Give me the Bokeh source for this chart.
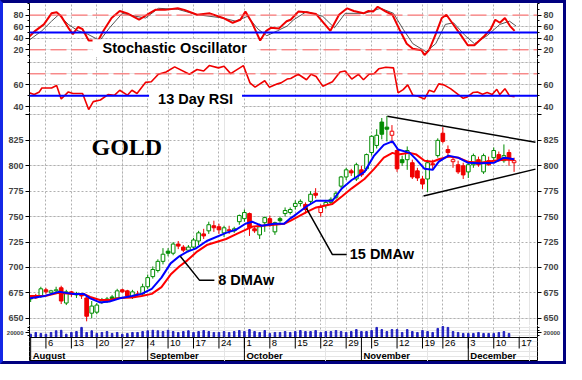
import numpy as np
from bokeh.plotting import figure
from bokeh.layouts import column
from bokeh.models import Range1d, FixedTicker, LinearAxis, Label, Span, Grid
from bokeh.core.properties import value
from bokeh.embed import file_html
from bokeh.resources import INLINE

# ---------------- data (x = trading-day index, Jul 30 2007 = 0) ----------------
week_idx = [5, 10, 15, 20, 25, 29, 34, 39, 44, 49, 54, 59, 64, 69, 74, 79, 83, 88, 93, 98]
week_labels = ["6", "13", "20", "27", "4", "10", "17", "24", "1", "8", "15", "22", "29",
               "5", "12", "19", "26", "3", "10", "17"]
month_idx = [2, 25, 44, 67, 88]
month_labels = ["August", "September", "October", "November", "December"]

day_idx = list(range(2, 98))
prior_close = 668
opens = [669, 672, 672, 678, 675, 677, 680, 665, 676, 673, 674, 670, 655, 656, 666, 667, 671, 670, 678, 677,
         671, 674, 674, 681, 691, 697, 706, 716, 714, 723, 720, 717, 720, 726, 733, 736, 741, 740, 734, 737,
         736, 745, 748, 753, 738, 732, 744, 748, 735, 748, 753, 754, 760, 763, 762, 765, 773, 754, 761, 764,
         769, 780, 789, 795, 787, 796, 797, 813, 820, 843, 838, 830, 815, 806, 806, 803, 795, 787, 787, 802,
         810, 832, 816, 804, 801, 800, 794, 801, 806, 794, 805, 808, 811, 805, 813, 803]
highs = [672, 674, 681, 680, 678, 681, 682, 678, 677, 676, 675, 671, 667, 665, 670, 671, 673, 679, 679, 678,
         678, 677, 684, 693, 701, 708, 719, 719, 725, 726, 722, 722, 729, 736, 738, 745, 746, 743, 741, 741,
         740, 752, 757, 754, 740, 743, 750, 751, 745, 750, 759, 759, 766, 767, 764, 775, 778, 762, 766, 769,
         775, 790, 798, 797, 803, 800, 812, 830, 836, 847, 849, 840, 818, 810, 819, 806, 798, 790, 806, 806,
         827, 838, 820, 808, 805, 803, 803, 812, 809, 812, 809, 818, 814, 821, 816, 808]
lows = [666, 669, 670, 674, 673, 675, 664, 663, 671, 670, 669, 647, 650, 654, 664, 665, 667, 668, 675, 671,
        669, 672, 673, 679, 689, 695, 703, 711, 712, 718, 715, 715, 718, 722, 728, 733, 735, 733, 730, 733,
        734, 742, 745, 731, 734, 728, 735, 740, 732, 744, 750, 752, 757, 760, 753, 762, 768, 750, 758, 762,
        767, 778, 786, 790, 785, 789, 795, 810, 817, 826, 824, 822, 794, 800, 796, 787, 785, 777, 774, 796,
        808, 822, 808, 798, 792, 787, 788, 798, 799, 792, 800, 805, 804, 803, 800, 794]
closes = [671, 670, 679, 676, 677, 678, 667, 676, 674, 674, 672, 652, 662, 663, 668, 669, 669, 677, 676, 672,
          676, 673, 681, 690, 698, 706, 713, 714, 723, 721, 717, 720, 727, 734, 731, 742, 739, 737, 739, 736,
          738, 751, 754, 739, 736, 740, 749, 742, 744, 746, 756, 757, 763, 765, 757, 772, 771, 759, 764, 767,
          773, 789, 796, 793, 801, 791, 811, 829, 830, 831, 836, 834, 797, 803, 815, 789, 788, 782, 803, 801,
          825, 824, 813, 806, 794, 791, 801, 810, 801, 810, 801, 815, 806, 810, 806, 805]

vol_idx = list(range(2, 97))
volumes = [14000, 21000, 17000, 14000, 21000, 28000, 30000, 14000, 21000, 25000, 42000, 21000, 28000, 17000,
           21000, 25000, 17000, 21000, 14000, 17000, 21000, 21000, 25000, 28000, 30000, 28000, 25000, 30000,
           25000, 21000, 25000, 28000, 21000, 25000, 29000, 25000, 21000, 21000, 25000, 21000, 25000, 29000,
           25000, 33000, 25000, 21000, 29000, 17000, 21000, 21000, 25000, 21000, 25000, 29000, 25000, 25000,
           29000, 21000, 25000, 25000, 29000, 25000, 21000, 25000, 33000, 25000, 25000, 29000, 42000, 33000,
           25000, 33000, 33000, 21000, 33000, 25000, 21000, 29000, 25000, 21000, 38000, 46000, 42000, 25000,
           21000, 17000, 17000, 17000, 21000, 17000, 17000, 17000, 21000, 25000, 17000]

ma8_x = [1.8, 4.8, 7.5, 10.3, 12.4, 13.7, 15.6, 17.5, 19.5, 21.9, 23.8, 25.8, 27.7, 29.5, 31.2, 32.8, 34.4,
         36.6, 40.4, 42.3, 44.2, 45.5, 47.4, 49.9, 51.8, 53.1, 53.7, 56.2, 58.1, 61.3, 63.2, 65.1, 67.6, 69.5,
         71.4, 73.1, 74.2, 76.5, 77.8, 79.4, 81.0, 82.2, 84.1, 86.0, 87.9, 90.4, 93.1, 95.0, 97.0]
ma8_y = [669.6, 672, 676, 674, 674, 669.6, 665.6, 666.5, 669.6, 672, 674, 679, 690, 704, 711, 715.6, 718.5,
         726, 734, 737, 743, 745, 741, 743, 743, 748.6, 750.5, 760, 765.6, 765.6, 778, 786, 794, 810,
         820.6, 824, 816, 812.7, 806, 797, 796, 804, 810, 808, 803, 802.6, 803, 808, 806.5]
ma15_x = [1.8, 4.8, 7.5, 10.3, 12.4, 13.7, 15.6, 17.5, 19.5, 21.9, 23.8, 25.8, 27.7, 29.5, 31.2, 32.8, 34.7,
          36.6, 40.4, 42.3, 44.2, 45.5, 47.4, 49.9, 51.8, 53.1, 56.2, 58.1, 61.3, 63.2, 65.1, 67.6, 69.5,
          71.4, 73.1, 74.2, 76.5, 77.8, 79.4, 81.0, 82.2, 84.1, 86.0, 87.9, 90.4, 93.1, 95.0, 97.0]
ma15_y = [672, 672, 675, 674, 674, 671, 668, 668, 670, 670.5, 672, 674, 680.7, 693, 701, 707, 715.6,
          722, 728, 732.5, 737, 740, 741, 742, 743, 746, 754.5, 759, 762.5, 770, 777.8, 787, 797,
          808, 812.7, 811, 812.7, 811, 805, 804, 806.4, 809, 808, 804, 803, 805, 806, 805.8]

stk_x = [1.6, 2.9, 4.6, 6.1, 7.1, 8.0, 9.4, 10.3, 11.3, 12.2, 13.4, 14.7, 15.3, 16.3, 17.9, 19.5, 21.0,
         23.3, 24.9, 26.5, 28.4, 30.9, 32.2, 34.7, 37.2, 39.8, 41.7, 43.2, 44.2, 45.5, 47.1, 48.3, 49.2,
         50.8, 52.3, 53.1, 54.6, 56.2, 58.1, 60.9, 62.6, 64.2, 65.5, 67.4, 68.3, 69.3, 70.2, 71.8, 73.1,
         74.6, 75.9, 77.1, 78.8, 79.4, 80.3, 81.6, 82.8, 83.7, 84.6, 86.4, 87.9, 89.2, 91.2, 92.4, 93.3,
         94.2, 95.2, 96.2, 97.1]
stk_y = [41.7, 52.8, 63.9, 83, 85, 77.8, 58, 47, 59.4, 55.6, 36, 36, 36.5, 52.8, 75, 87, 83,
         72, 80.6, 89, 89, 91.7, 89, 80.6, 83, 75, 66.7, 72, 86, 66.7, 36, 52.8, 58,
         57, 69.4, 72, 86, 85, 81.7, 52.8, 80.6, 91.7, 87, 83, 87, 86, 94.4, 86, 80.6,
         52.8, 30.6, 22, 19.4, 11, 19.4, 47, 75, 80.6, 69.4, 47, 27.8, 27.8, 44.4, 55.6, 72,
         66.7, 75, 61, 52.8]
std_x = [1.6, 4.2, 6.1, 7.5, 9.4, 11.3, 13.2, 15.6, 17.5, 20.0, 22.7, 24.6, 27.1, 30.9, 34.7, 39.8, 42.3,
         44.6, 46.7, 48.4, 50.5, 51.2, 52.4, 53.7, 56.2, 59.4, 61.7, 63.8, 67.6, 70.8, 73.3, 75.2, 77.1,
         79.7, 81.6, 83.5, 85.1, 87.4, 89.2, 91.7, 94.2, 96.1, 97.4]
std_y = [36, 52.8, 69.4, 80.6, 63.9, 52.8, 47, 36, 58, 83, 77.8, 75, 91.7, 90, 80.6, 75, 69.4,
         77.8, 55.6, 44.4, 52.8, 56, 61, 72, 86, 77.8, 58, 83, 83, 91.7, 83, 55.6, 30.6,
         16.7, 30.6, 63.9, 66.7, 44.4, 30.6, 44.4, 63.9, 69.4, 61]

rsi_x = [1.6, 2.7, 3.7, 4.2, 6.1, 7.1, 8.0, 9.4, 10.3, 12.2, 13.4, 14.3, 15.7, 17.2, 18.5, 19.5, 21.0,
         21.9, 22.9, 24.6, 25.7, 27.1, 28.6, 30.3, 33.2, 34.7, 36.0, 37.1, 38.9, 40.0, 41.3, 43.8, 45.1,
         46.1, 48.0, 48.9, 50.5, 51.2, 52.4, 53.1, 53.7, 54.6, 56.2, 57.1, 58.1, 59.4, 61.3, 62.8, 63.8,
         65.1, 66.4, 67.4, 68.5, 69.5, 70.4, 71.8, 73.3, 74.2, 75.2, 76.1, 77.1, 78.0, 79.4, 80.3, 81.3,
         82.2, 83.2, 84.5, 85.6, 87.0, 87.9, 88.9, 89.8, 90.8, 91.7, 92.7, 93.6, 94.2, 95.2, 96.1, 97.1]
rsi_y = [52.8, 51, 53.4, 57, 57, 59.3, 46.9, 53.4, 52, 52, 37.2, 44.5, 46, 51, 50.4, 54.9, 50.4,
         54.9, 52, 62.2, 62.8, 69.6, 71.7, 76.4, 69.6, 74, 72.6, 77.6, 75.5, 77, 70.2, 77.6, 61.7,
         57.8, 63.7, 57.8, 60.8, 61.7, 65.2, 65.8, 67.3, 69.6, 64.6, 69.6, 67.5, 58.7, 62.8, 71.7, 72.6,
         65.2, 69.6, 64.6, 69.6, 70.2, 74.6, 76.1, 75.5, 52.5, 55.5, 59.9, 50.4, 49.6, 46.9, 54.9, 53.4,
         60.8, 59.9, 56.4, 52.5, 47.5, 49, 52.8, 53.4, 51.3, 52.8, 51, 55.8, 51, 56.4, 49.8, 49]

# annotation lines (data coordinates)
tri_top_x, tri_top_y = [72.1, 101.2], [848.6, 823.1]
tri_bot_x, tri_bot_y = [79.2, 101.2], [770.3, 796.7]
lead8_x, lead8_y = [38.1, 35.2, 31.4], [687.3, 687.3, 711.0]
lead15_x, lead15_y = [64.1, 61.3, 56.2], [712.7, 712.7, 758.0]

# ---------------- styling ----------------
FONT = "Liberation Sans"
W = 560
LB, RB = 24, 24
GREEN, RED = "#008c00", "#f00000"
x_range = Range1d(1.77, 101.6)


def base_fig(h, yr, outline=None):
    p = figure(width=W, height=h, x_range=x_range, y_range=yr, title=None,
               x_axis_location=None, y_axis_location=None, toolbar_location=None,
               output_backend="svg", min_border_left=LB, min_border_right=RB,
               min_border_top=0, min_border_bottom=0, outline_line_color=outline,
               background_fill_color="white", border_fill_color="white")
    return p


def add_vgrid(p):
    p.add_layout(Grid(dimension=0, ticker=FixedTicker(ticks=week_idx),
                      grid_line_color="#b0b0b0", grid_line_dash="2 2"))


def add_hgrid(p, ticks):
    p.add_layout(Grid(dimension=1, ticker=FixedTicker(ticks=ticks),
                      grid_line_color="#b0b0b0", grid_line_dash="2 2"))


def add_axes(p, ticks, minor, overrides=None, size="9px"):
    for side in ("left", "right"):
        ax = LinearAxis(ticker=FixedTicker(ticks=ticks, minor_ticks=minor),
                        major_label_overrides=overrides or {},
                        axis_line_color="black", major_tick_out=4, major_tick_in=0,
                        minor_tick_out=2, minor_tick_in=0,
                        major_tick_line_color="black", minor_tick_line_color="black",
                        major_label_text_font=FONT, major_label_text_font_size=size,
                        major_label_text_font_style="bold", major_label_standoff=2)
        p.add_layout(ax, side)


# ---- Stochastic panel ----
ps = base_fig(55, Range1d(5, 100))
add_vgrid(ps)
add_hgrid(ps, [40, 60])
add_axes(ps, [20, 40, 60, 80], [10, 30, 50, 70, 90, 100])
for lv in (80, 20):
    ps.add_layout(Span(location=lv, dimension="width", line_color="#ff5a5a", line_dash="16 5", line_width=1))
ps.add_layout(Span(location=50, dimension="width", line_color="#0000ff", line_width=2))
ps.line(std_x, std_y, line_color="#555555", line_width=1)
ps.line(stk_x, stk_y, line_color=RED, line_width=2)
ps.add_layout(Label(x=30.3, y=22.5, text="Stochastic Oscillator", text_align="center",
                    text_baseline="middle", text_font=FONT, text_font_size="14.5px",
                    text_font_style="bold", text_color="black",
                    background_fill_color="white", padding=(10, 1)))

# ---- RSI panel ----
pr = base_fig(54, Range1d(34.5, 84.1))
add_vgrid(pr)
add_hgrid(pr, [40, 60, 80])
add_axes(pr, [40, 60], [30, 50, 70, 80])
pr.add_layout(Span(location=70, dimension="width", line_color="#ff5a5a", line_dash="16 5", line_width=1))
pr.add_layout(Span(location=50, dimension="width", line_color="#0000ff", line_width=2))
pr.line(rsi_x, rsi_y, line_color=RED, line_width=1.6)
pr.add_layout(Label(x=34.4, y=46.9, text="13 Day RSI", text_align="center",
                    text_baseline="middle", text_font=FONT, text_font_size="14.5px",
                    text_font_style="bold", text_color="black",
                    background_fill_color="white", padding=(9, 1)))

# ---- Price panel ----
pp = base_fig(213, Range1d(642.9, 852.4))
add_vgrid(pp)
price_ticks = [650, 675, 700, 725, 750, 775, 800, 825, 850]
add_hgrid(pp, price_ticks)
add_axes(pp, price_ticks, [], {850: ""})

o = np.array(opens, dtype=float)
c = np.array(closes, dtype=float)
prev = np.concatenate([[prior_close], c[:-1]])
col = np.where(c >= prev, GREEN, RED)
fill = np.where(c >= o, "white", col)
pp.segment(x0=day_idx, y0=lows, x1=day_idx, y1=highs, line_color=list(col), line_width=1)
pp.vbar(x=day_idx, width=0.72, top=list(np.maximum(o, c)), bottom=list(np.minimum(o, c)),
        fill_color=list(fill), line_color=list(col), line_width=1)

pp.line(ma15_x, ma15_y, line_color="#ff0000", line_width=2)
pp.line(ma8_x, ma8_y, line_color="#0000ff", line_width=2)

pp.line(tri_top_x, tri_top_y, line_color="black", line_width=1.5)
pp.line(tri_bot_x, tri_bot_y, line_color="black", line_width=1.5)
pp.line(lead8_x, lead8_y, line_color="black", line_width=1.5)
pp.line(lead15_x, lead15_y, line_color="black", line_width=1.5)

pp.add_layout(Label(x=20.9, y=818.9, text="GOLD", text_align="center", text_baseline="middle",
                    text_font="Liberation Serif", text_font_size="24px", text_font_style="bold",
                    text_color="black"))
pp.add_layout(Label(x=38.85, y=687.7, text="8 DMAw", text_align="left", text_baseline="middle",
                    text_font=FONT, text_font_size="14.5px", text_font_style="bold", text_color="black"))
pp.add_layout(Label(x=64.7, y=713.2, text="15 DMAw", text_align="left", text_baseline="middle",
                    text_font=FONT, text_font_size="14.5px", text_font_style="bold", text_color="black"))

# ---- Volume panel ----
pv = base_fig(12, Range1d(0, 50000))
add_vgrid(pv)
add_axes(pv, [20000], [10000, 30000, 40000], {20000: "20000"}, size="6px")
pv.vbar(x=vol_idx, width=0.3, top=volumes, bottom=0, fill_color="#2020c0", line_color="#2020c0")

# ---- Date axis ----
pdt = base_fig(24, Range1d(0, 24), outline="black")
pdt.segment(x0=week_idx, y0=24, x1=week_idx, y1=13, line_color="black", line_width=1)
pdt.segment(x0=month_idx, y0=24, x1=month_idx, y1=0, line_color="black", line_width=1)
pdt.text(x=week_idx, y=22, text=week_labels, text_font=value(FONT), text_font_size="9.5px",
         text_baseline="top", text_align="left", x_offset=2, text_color="black")
pdt.text(x=month_idx, y=11.5, text=month_labels, text_font=value(FONT), text_font_size="9.5px",
         text_font_style="bold", text_baseline="top", text_align="left", x_offset=2, text_color="black")

layout = column(ps, pr, pp, pv, pdt, spacing=0)
layout.styles = {"border": "3px solid #000080", "border-left-color": "#1428e6",
                 "background-color": "white"}

open("out.html", "w").write(file_html(layout, INLINE))
